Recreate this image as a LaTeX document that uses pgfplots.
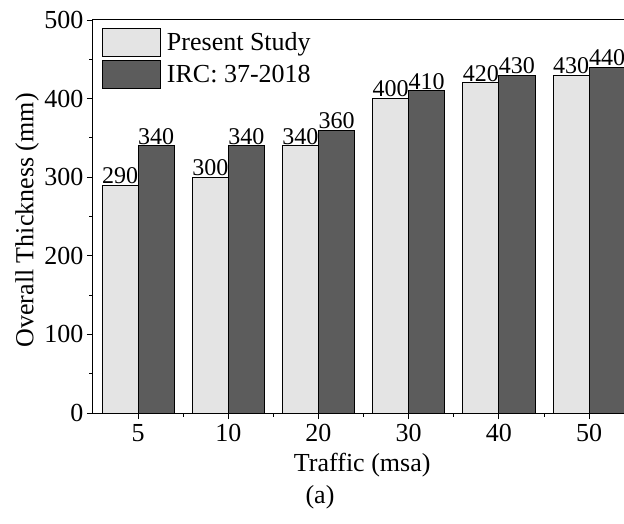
\documentclass[border=0pt]{standalone}
\usepackage{fontspec}
\setmainfont{Liberation Serif}
\usepackage{pgfplots}
\pgfplotsset{compat=1.18}
\definecolor{lightbar}{HTML}{E4E4E4}
\definecolor{darkbar}{HTML}{5C5C5C}
\begin{document}
\begin{tikzpicture}[font=\fontsize{26bp}{30bp}\selectfont]
\useasboundingbox (-93bp,-111bp) rectangle (531bp,413bp);
\begin{axis}[
  at={(0,0)}, anchor=south west,
  scale only axis, width=531bp, height=393bp,
  xmin=-0.5, xmax=5.387, ymin=0, ymax=500,
  ytick={0,100,...,500}, minor ytick={50,150,...,450},
  xtick={0,...,5}, xticklabels={5,10,20,30,40,50},
  minor xtick={0.5,1.5,...,4.5},
  tick align=outside, tick pos=left,
  major tick length=6bp, minor tick length=3.5bp,
  tick style={black, line width=0.9bp},
  axis line style={line width=1bp},
  /pgf/number format/assume math mode=true,
  ticklabel style={font=\fontsize{26bp}{30bp}\selectfont},
  xticklabel style={yshift=-2bp},
  xlabel={Traffic (msa)}, ylabel={Overall Thickness (mm)},
  xlabel style={at={(axis description cs:0.507,0)}, anchor=center, yshift=-52bp},
  ylabel style={at={(axis description cs:-0.124,0.49)}, anchor=center},
  ybar, bar width=0.4,
  nodes near coords,
  nodes near coords style={font=\fontsize{24bp}{28bp}\selectfont, anchor=south, inner sep=1bp},
  legend style={draw=none, fill=none, at={(0,1)}, anchor=north west, xshift=7bp, yshift=-6bp,
    font=\fontsize{26bp}{30bp}\selectfont, row sep=3bp, column sep=4bp, inner sep=2bp},
  legend cell align=left,
  legend image code/.code={\draw[#1, line width=0.8bp] (0bp,-14bp) rectangle (58bp,14bp);},
]
\addplot[bar shift=-0.2, fill=lightbar, draw=black, line width=0.8bp]
  coordinates {(0,290) (1,300) (2,340) (3,400) (4,420) (5,430)};
\addplot[bar shift=0.2, fill=darkbar, draw=black, line width=0.8bp]
  coordinates {(0,340) (1,340) (2,360) (3,410) (4,430) (5,440)};
\legend{Present Study, IRC: 37-2018}
\end{axis}
\node at (227bp,-84bp) {(a)};
\end{tikzpicture}
\end{document}
